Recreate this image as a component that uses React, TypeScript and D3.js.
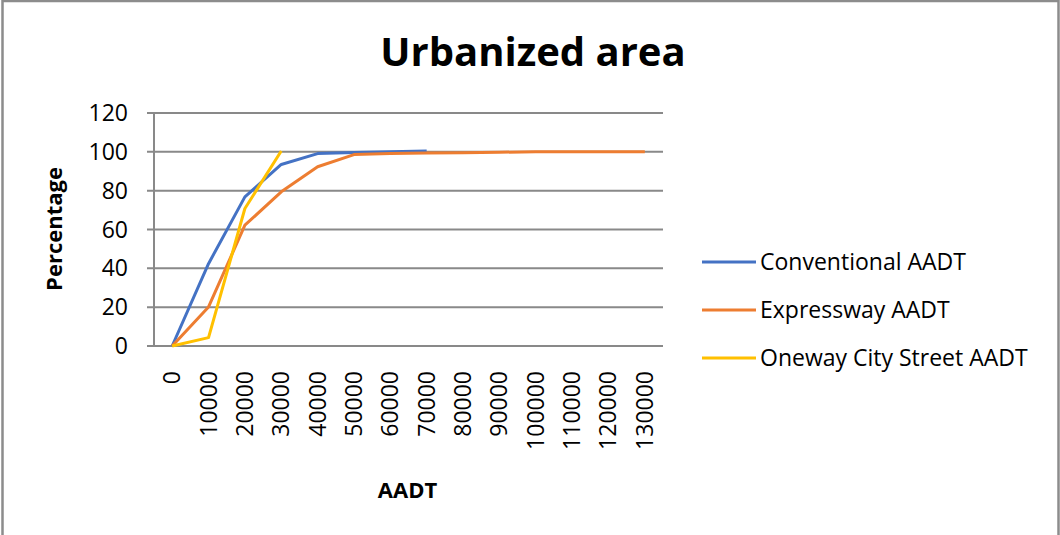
import React from "react";
import * as d3 from "d3";

const categories = [0, 10000, 20000, 30000, 40000, 50000, 60000, 70000, 80000, 90000, 100000, 110000, 120000, 130000];
const conventional = [0, 42.4, 76.8, 93.5, 99.1, 99.7, 100, 100.4];
const expressway = [0, 20.1, 62.2, 79.4, 92.3, 98.6, 99.2, 99.4, 99.5, 99.8, 100, 100, 100, 100];
const oneway = [0, 4.3, 70.8, 100.4];
const yTicks = [0, 20, 40, 60, 80, 100, 120];

const seriesNames = ["Conventional AADT", "Expressway AADT", "Oneway City Street AADT"];
const seriesData = [conventional, expressway, oneway];
const colors = ["#4472C4", "#ED7D31", "#FFC000"];

const FONT = "'Open Sans', 'Noto Sans', sans-serif";

export default function App() {
  const W = 1060, H = 535;
  const left = 154, right = 663, top = 113, bottom = 346;
  const x = d3.scaleBand<number>().domain(categories.map((_, i) => i)).range([left, right]);
  const y = d3.scaleLinear().domain([0, 120]).range([bottom, top]);
  const cx = (i: number) => (x(i) as number) + x.bandwidth() / 2;
  const line = d3.line<number>().x((_, i) => cx(i)).y((d) => y(d));

  return (
    <svg width={W} height={H} style={{ position: "absolute", left: 0, top: 0, background: "#fff" }} fontFamily={FONT}>
      <rect x={2.5} y={1} width={1056} height={560} fill="#fff" stroke="#8c8c8c" strokeWidth={2.5} />
      <text x={533} y={66} textAnchor="middle" fontSize={40} fontWeight="bold" fill="#000">Urbanized area</text>
      {yTicks.map((t) => (
        <g key={t}>
          <line x1={left - 7} x2={right} y1={y(t)} y2={y(t)} stroke="#898989" strokeWidth={2} />
          <text x={128} y={y(t)} dy="0.35em" textAnchor="end" fontSize={23} fill="#000">{t}</text>
        </g>
      ))}
      <line x1={left} x2={left} y1={top} y2={bottom} stroke="#898989" strokeWidth={2} />
      {categories.map((c, i) => (
        <text key={c} transform={`translate(${cx(i) + 8},371) rotate(-90)`} textAnchor="end" fontSize={23} fill="#000">{c}</text>
      ))}
      <text transform="translate(62,229) rotate(-90)" textAnchor="middle" fontSize={22} fontWeight="bold" fill="#000">Percentage</text>
      <text x={407.5} y={498} textAnchor="middle" fontSize={22} fontWeight="bold" fill="#000">AADT</text>
      {seriesData.map((s, k) => (
        <path key={k} d={line(s) || ""} fill="none" stroke={colors[k]} strokeWidth={3} strokeLinejoin="round" />
      ))}
      {seriesNames.map((n, k) => (
        <g key={n}>
          <line x1={702} x2={756} y1={262 + k * 48} y2={262 + k * 48} stroke={colors[k]} strokeWidth={3} />
          <text x={760} y={262 + k * 48} dy="0.35em" fontSize={23} fill="#000">{n}</text>
        </g>
      ))}
    </svg>
  );
}
